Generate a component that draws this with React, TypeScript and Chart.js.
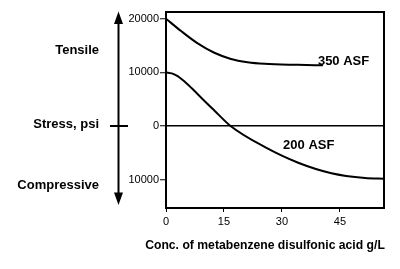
import React, { useEffect, useRef } from "react";
import { Chart, registerables } from "chart.js";

Chart.register(...registerables);

// Concentration of metabenzene disulfonic acid (g/L) and resulting stress (psi)
const concentration350 = [0, 3.9, 8.2, 12.5, 16.8, 21.1, 25.5, 34.1, 40.6];
const stress350 = [20000, 17700, 15400, 13650, 12500, 11900, 11600, 11400, 11300];

const concentration200 = [0, 1.5, 3, 5, 7, 9.5, 12.5, 16.7, 25.5, 34.2, 42.8, 51.5, 56.4];
const stress200 = [10000, 9800, 9300, 8150, 6800, 5000, 2900, 0, -3900, -6850, -8800, -9700, -9850];

const seriesLabels = ["350 ASF", "200 ASF"];
const xTicks = [0, 15, 30, 45];
const yTicks = [-10000, 0, 10000, 20000];

const FONT = "'Liberation Sans', Arial, Helvetica, sans-serif";

const toPoints = (xs: number[], ys: number[]) => xs.map((x, i) => ({ x, y: ys[i] }));

const annotations = {
  id: "stressAnnotations",
  afterDraw(chart: any) {
    const { ctx, chartArea, scales } = chart;
    const xs = scales.x;
    const ys = scales.y;
    ctx.save();

    // plot frame
    ctx.strokeStyle = "#000";
    ctx.lineWidth = 2;
    ctx.strokeRect(chartArea.left, chartArea.top, chartArea.right - chartArea.left, chartArea.bottom - chartArea.top);

    // series labels
    ctx.fillStyle = "#000";
    ctx.font = `bold 13px ${FONT}`;
    ctx.textAlign = "left";
    ctx.textBaseline = "middle";
    ctx.fillText(seriesLabels[0], xs.getPixelForValue(39.3), ys.getPixelForValue(12000));
    ctx.fillText(seriesLabels[1], xs.getPixelForValue(30.3), ys.getPixelForValue(-3550));

    // left-hand stress direction labels
    const zeroY = ys.getPixelForValue(0);
    ctx.textAlign = "right";
    ctx.fillText("Tensile", 99, 50);
    ctx.fillText("Stress, psi", 99, zeroY - 1.5);
    ctx.fillText("Compressive", 99, 185.5);

    // double-headed arrow with cross bar at zero
    const ax = 118.5;
    ctx.lineWidth = 2;
    ctx.beginPath();
    ctx.moveTo(ax, 20);
    ctx.lineTo(ax, 196);
    ctx.moveTo(110, zeroY);
    ctx.lineTo(128, zeroY);
    ctx.stroke();
    ctx.beginPath();
    ctx.moveTo(ax, 11.5);
    ctx.lineTo(ax - 4.5, 24);
    ctx.lineTo(ax + 4.5, 24);
    ctx.closePath();
    ctx.moveTo(ax, 205);
    ctx.lineTo(ax - 4.5, 192.5);
    ctx.lineTo(ax + 4.5, 192.5);
    ctx.closePath();
    ctx.fill();

    // x axis title
    ctx.textAlign = "center";
    ctx.font = `bold 12.2px ${FONT}`;
    ctx.fillText("Conc. of metabenzene disulfonic acid g/L", 265, 245.5);

    ctx.restore();
  },
};

export default function App() {
  const canvasRef = useRef<HTMLCanvasElement | null>(null);

  useEffect(() => {
    if (!canvasRef.current) return;
    const chart = new Chart(canvasRef.current, {
      type: "line",
      data: {
        datasets: [
          {
            label: seriesLabels[0],
            data: toPoints(concentration350, stress350),
            borderColor: "#000",
            borderWidth: 2,
            pointRadius: 0,
            fill: false,
            cubicInterpolationMode: "monotone",
          },
          {
            label: seriesLabels[1],
            data: toPoints(concentration200, stress200),
            borderColor: "#000",
            borderWidth: 2,
            pointRadius: 0,
            fill: false,
            cubicInterpolationMode: "monotone",
          },
        ],
      },
      options: {
        responsive: false,
        animation: false,
        devicePixelRatio: 1,
        layout: { padding: { left: 0, right: 16, top: 12, bottom: 0 } },
        plugins: {
          legend: { display: false },
          tooltip: { enabled: false },
        },
        scales: {
          x: {
            type: "linear",
            min: 0,
            max: 56.4,
            afterBuildTicks: (scale: any) => {
              scale.ticks = xTicks.map((value) => ({ value }));
            },
            afterFit: (scale: any) => {
              scale.height = 61;
            },
            border: { display: false },
            grid: {
              color: "rgba(0,0,0,0)",
              tickColor: "#000",
              tickLength: 4,
              tickWidth: 1,
            },
            ticks: {
              color: "#000",
              padding: 3,
              maxRotation: 0,
              font: { family: FONT, size: 11 },
              callback: (value: any) => String(value),
            },
          },
          y: {
            type: "linear",
            min: -15290,
            max: 21250,
            afterBuildTicks: (scale: any) => {
              scale.ticks = yTicks.map((value) => ({ value }));
            },
            afterFit: (scale: any) => {
              scale.width = 166;
            },
            border: { display: false },
            grid: {
              color: (c: any) => (c.tick && c.tick.value === 0 ? "#000" : "rgba(0,0,0,0)"),
              lineWidth: 1.5,
              tickColor: "#000",
              tickLength: 6,
              tickWidth: 1,
            },
            ticks: {
              color: "#000",
              padding: 1,
              font: { family: FONT, size: 11 },
              callback: (value: any) => String(Math.abs(Number(value))),
            },
          },
        },
      },
      plugins: [annotations],
    } as any);
    return () => chart.destroy();
  }, []);

  return (
    <div style={{ position: "absolute", left: 0, top: 0, width: 400, height: 269, background: "#fff" }}>
      <canvas ref={canvasRef} width={400} height={269} style={{ display: "block" }} />
    </div>
  );
}
